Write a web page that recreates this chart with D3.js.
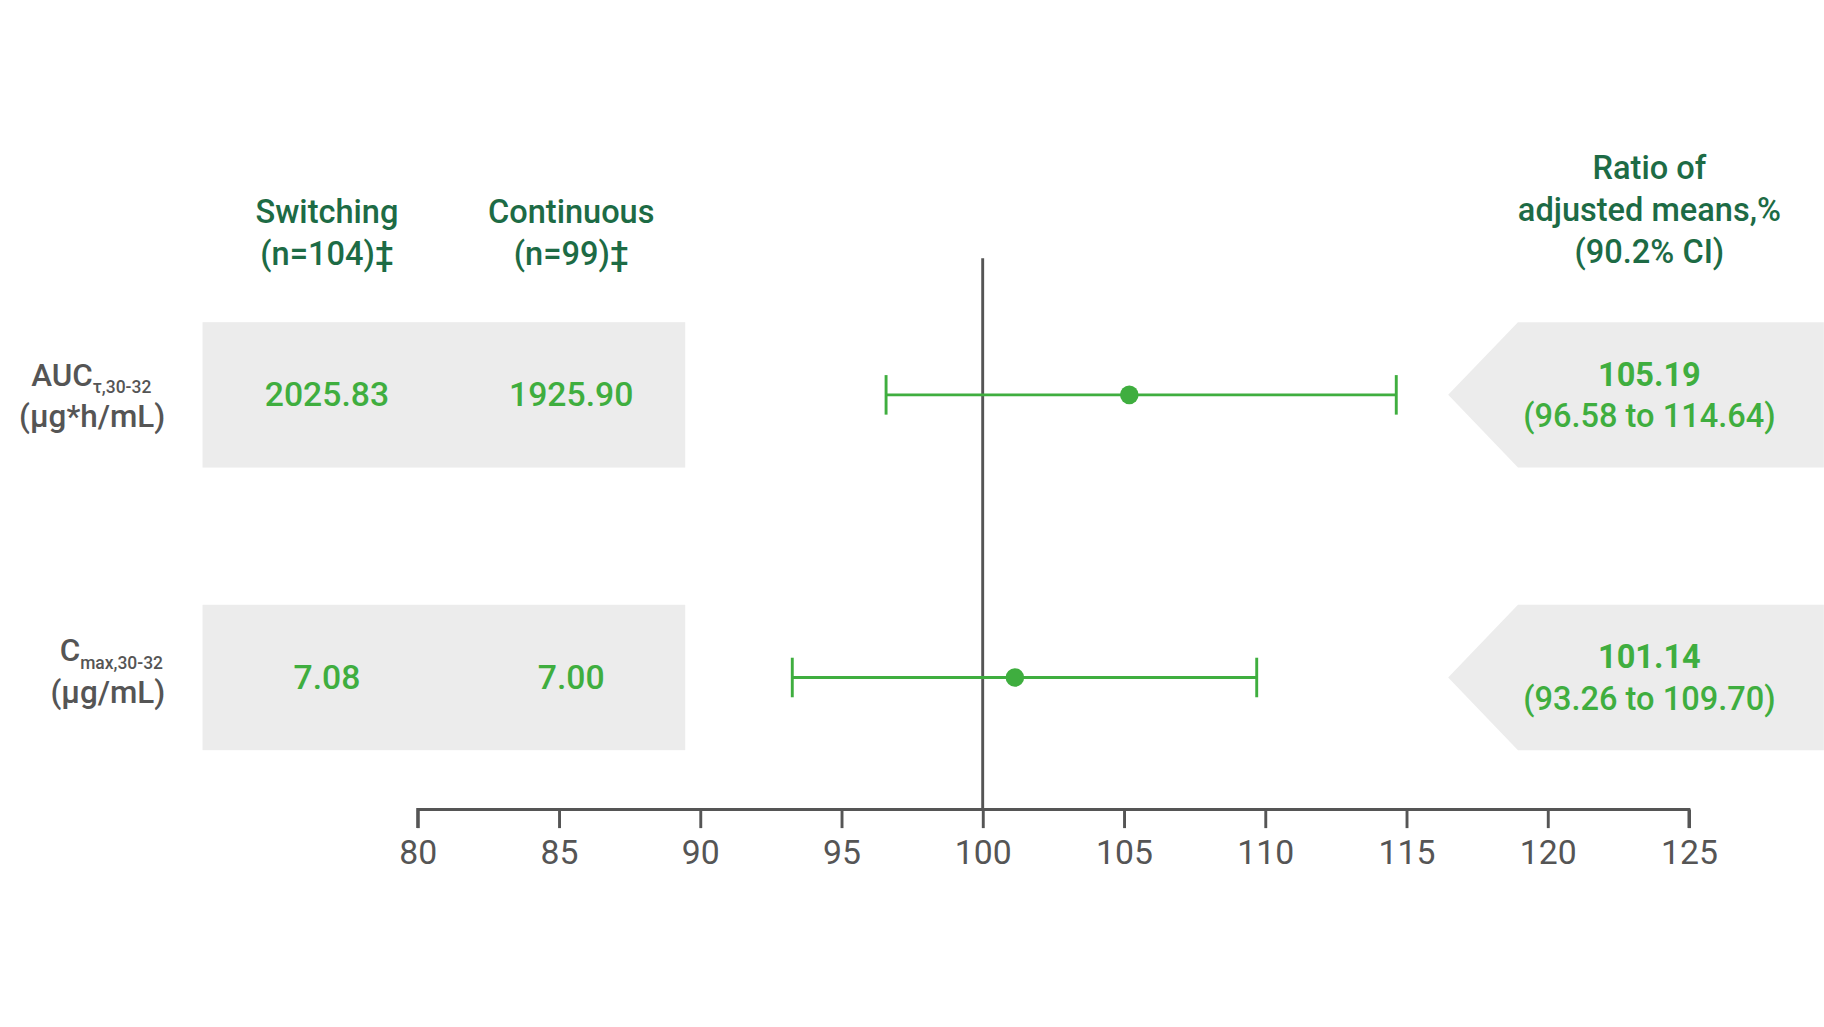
<!DOCTYPE html>
<html><head><meta charset="utf-8">
<script src="https://cdn.jsdelivr.net/npm/d3@7"></script>
<style>body{margin:0;background:#fff}svg{display:block}</style>
</head><body>
<svg id="chart"></svg>
<script>
// data
const measures = ["AUC", "Cmax"];
const switching = ["2025.83", "7.08"];
const continuous = ["1925.90", "7.00"];
const ratio = [105.19, 101.14];
const ciLow = [96.58, 93.26];
const ciHigh = [114.64, 109.70];
const ticks = [80, 85, 90, 95, 100, 105, 110, 115, 120, 125];

const W = 1568, H = 883;
const svg = d3.select("#chart").attr("width", 1824).attr("height", 1027)
  .attr("viewBox", `0 0 ${W} ${H}`)
  .style("font-family", "Roboto, 'Open Sans', sans-serif");

const dark = "#1d6b45", green = "#3fae3f", grey = "#555", band = "#ececec";
const x = d3.scaleLinear().domain([80, 125]).range([359, 1452]);
const y = d3.scalePoint().domain(measures).range([339.5, 582.5]);
const bh = 125;
const cy = d => y(d);

measures.forEach((m, i) => {
  const t = cy(m) - bh / 2, b = cy(m) + bh / 2;
  svg.append("rect").attr("x", 174).attr("y", t).attr("width", 415).attr("height", bh).attr("fill", band);
  svg.append("path").attr("d", `M1245,${cy(m)}L1305,${t}L${W},${t}L${W},${b}L1305,${b}Z`).attr("fill", band);
  svg.append("text").attr("x", 281).attr("y", cy(m) + 10).attr("text-anchor", "middle").attr("font-size", 29).attr("font-weight", 500).attr("fill", green).text(switching[i]);
  svg.append("text").attr("x", 491).attr("y", cy(m) + 10).attr("text-anchor", "middle").attr("font-size", 29).attr("font-weight", 500).attr("fill", green).text(continuous[i]);
  svg.append("text").attr("x", 1418).attr("y", cy(m) - 8).attr("text-anchor", "middle").attr("font-size", 28).attr("font-weight", "bold").attr("fill", green).text(ratio[i].toFixed(2));
  svg.append("text").attr("x", 1418).attr("y", cy(m) + 28).attr("text-anchor", "middle").attr("font-size", 28).attr("font-weight", 500).attr("fill", green).text(`(${ciLow[i].toFixed(2)} to ${ciHigh[i].toFixed(2)})`);
});

// row labels
const lab1 = svg.append("text").attr("x", 130).attr("y", cy("AUC") - 8).attr("text-anchor", "end").attr("font-size", 27).attr("font-weight", 500).attr("fill", grey);
lab1.append("tspan").text("AUC");
lab1.append("tspan").attr("font-size", 15).attr("dy", 6).text("τ,30-32");
svg.append("text").attr("x", 142).attr("y", cy("AUC") + 28).attr("text-anchor", "end").attr("font-size", 27).attr("font-weight", 500).attr("fill", grey).text("(μg*h/mL)");
const lab2 = svg.append("text").attr("x", 140).attr("y", cy("Cmax") - 14).attr("text-anchor", "end").attr("font-size", 27).attr("font-weight", 500).attr("fill", grey);
lab2.append("tspan").text("C");
lab2.append("tspan").attr("font-size", 15).attr("dy", 7).text("max,30-32");
svg.append("text").attr("x", 142).attr("y", cy("Cmax") + 22).attr("text-anchor", "end").attr("font-size", 27).attr("font-weight", 500).attr("fill", grey).text("(μg/mL)");

// headers
const head = (xx, yy, lines) => lines.forEach((l, k) =>
  svg.append("text").attr("x", xx).attr("y", yy + k * 36).attr("text-anchor", "middle").attr("font-size", 28).attr("font-weight", 500).attr("fill", dark).text(l));
head(281, 192, ["Switching", "(n=104)‡"]);
head(491, 192, ["Continuous", "(n=99)‡"]);
head(1418, 154, ["Ratio of", "adjusted means,%", "(90.2% CI)"]);

// reference line
svg.append("line").attr("x1", x(100)).attr("x2", x(100)).attr("y1", 222).attr("y2", 696).attr("stroke", grey).attr("stroke-width", 2.5);

// axis
const ax = svg.append("g").attr("transform", "translate(0,696)")
  .call(d3.axisBottom(x).tickValues(ticks).tickSize(16).tickSizeOuter(0));
ax.select(".domain").attr("stroke", grey).attr("stroke-width", 2.5).attr("d", `M${x(80)},16V0H${x(125)}V16`);
ax.selectAll(".tick line").attr("stroke", grey).attr("stroke-width", 2.5);
ax.selectAll(".tick text").attr("font-size", 29).attr("fill", grey).attr("dy", 28).style("font-family", "Roboto, sans-serif");

// error bars
measures.forEach((m, i) => {
  const g = svg.append("g").attr("stroke", green).attr("stroke-width", 2.5);
  g.append("line").attr("x1", x(ciLow[i])).attr("x2", x(ciHigh[i])).attr("y1", cy(m)).attr("y2", cy(m));
  [ciLow[i], ciHigh[i]].forEach(v => g.append("line").attr("x1", x(v)).attr("x2", x(v)).attr("y1", cy(m) - 17).attr("y2", cy(m) + 17));
  svg.append("circle").attr("cx", x(ratio[i])).attr("cy", cy(m)).attr("r", 8).attr("fill", green);
});
</script>
</body></html>
